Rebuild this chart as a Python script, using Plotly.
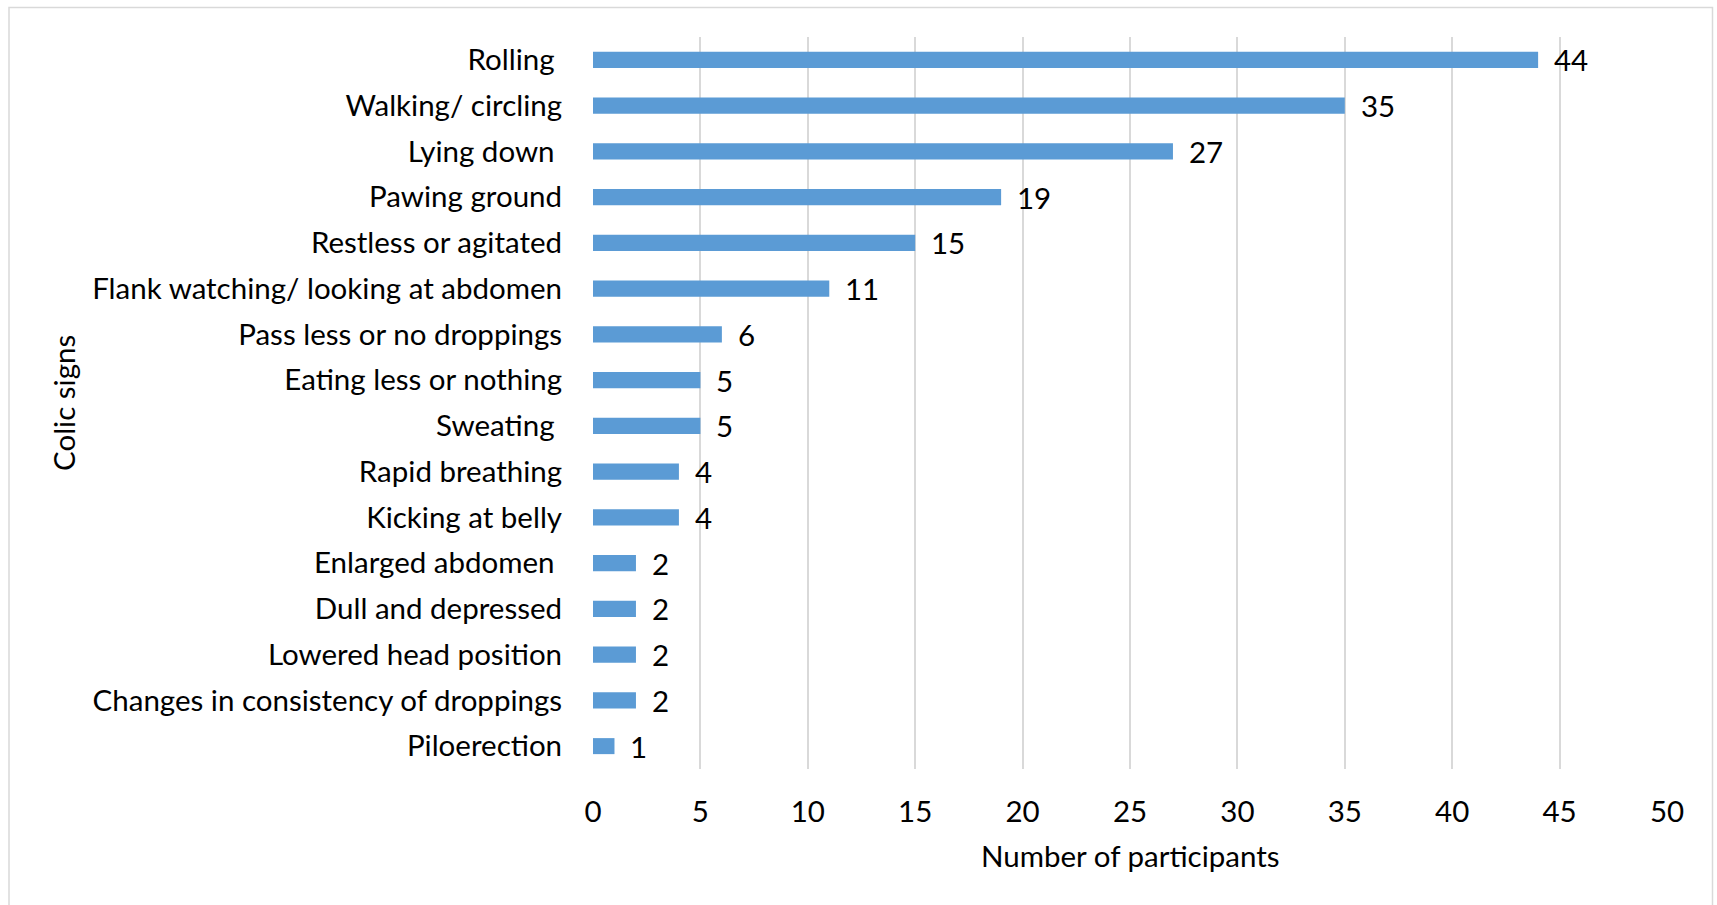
import plotly.graph_objects as go

signs = [
    "Rolling\u00a0", "Walking/ circling", "Lying down\u00a0", "Pawing ground",
    "Restless or agitated", "Flank watching/ looking at abdomen",
    "Pass less or no droppings", "Eating less or nothing", "Sweating\u00a0",
    "Rapid breathing", "Kicking at belly", "Enlarged abdomen\u00a0",
    "Dull and depressed", "Lowered head position",
    "Changes in consistency of droppings", "Piloerection",
]
participants = [44, 35, 27, 19, 15, 11, 6, 5, 5, 4, 4, 2, 2, 2, 2, 1]
x_ticks = [0, 5, 10, 15, 20, 25, 30, 35, 40, 45, 50]

FONT = "Lato"
FS = 29.5
BAR = "#5b9bd5"
GRID = "#d9d9d9"

# plot area in pixels
L, R, T, B = 593, 1667, 37, 769
W, H = 1717, 905

fig = go.Figure()
fig.add_trace(go.Bar(
    x=participants, y=signs, orientation="h",
    marker=dict(color=BAR, line=dict(width=0)),
    hoverinfo="x+y",
))

for v, s in zip(participants, signs):
    fig.add_annotation(x=v, y=s, xref="x", yref="y", text=str(v),
                       showarrow=False, xanchor="left", xshift=14, yshift=0,
                       font=dict(family=FONT, size=FS, color="#000000"))

pw, ph = R - L, B - T
def px(xp):
    return (xp - L) / pw
def py(yp):
    return (B - yp) / ph

fig.add_annotation(x=px(63), y=py(403), xref="paper", yref="paper",
                   text="Colic signs", textangle=-90, showarrow=False,
                   xanchor="center", yanchor="middle",
                   font=dict(family=FONT, size=FS, color="#000000"))
fig.add_annotation(x=px(1130), y=py(855), xref="paper", yref="paper",
                   text="Number of participants", showarrow=False,
                   xanchor="center", yanchor="middle",
                   font=dict(family=FONT, size=FS, color="#000000"))

fig.add_shape(type="rect", xref="paper", yref="paper",
              x0=px(9), x1=px(1712.5), y0=py(7.5), y1=py(920),
              line=dict(color=GRID, width=1.5), fillcolor="rgba(0,0,0,0)",
              layer="below")

fig.update_layout(
    width=W, height=H,
    margin=dict(l=L, r=W - R, t=T, b=H - B, autoexpand=False),
    paper_bgcolor="white", plot_bgcolor="white",
    bargap=0.65, showlegend=False,
    font=dict(family=FONT, size=FS, color="#000000"),
)
fig.update_xaxes(
    range=[0, 50], tickvals=x_ticks, ticktext=[str(t) for t in x_ticks],
    showgrid=True, gridcolor=GRID, gridwidth=1.5,
    zeroline=False, showline=False,
    ticks="outside", ticklen=17, tickcolor="rgba(0,0,0,0)",
    tickfont=dict(family=FONT, size=FS, color="#000000"),
    fixedrange=True,
)
fig.update_yaxes(
    categoryorder="array", categoryarray=signs, autorange="reversed",
    showgrid=False, showline=False, zeroline=False,
    ticks="outside", ticklen=24, tickcolor="rgba(0,0,0,0)",
    tickfont=dict(family=FONT, size=FS, color="#000000"),
    fixedrange=True,
)

fig.write_html("out.html", config={"displayModeBar": False})
